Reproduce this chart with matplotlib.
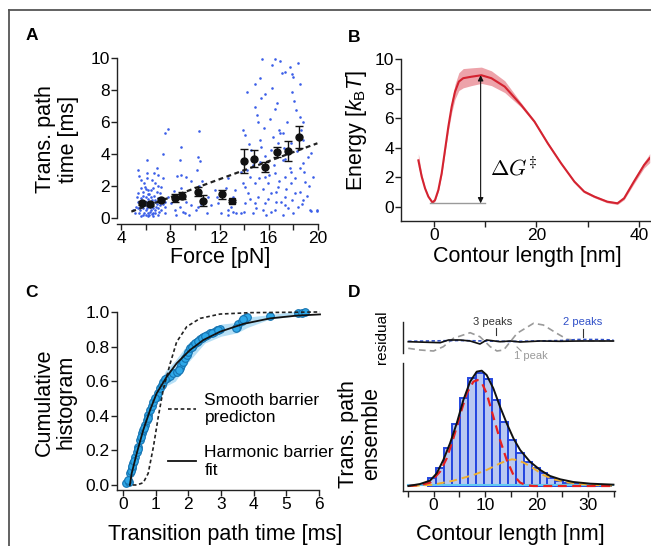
import numpy as np
import matplotlib
matplotlib.use('Agg')
import matplotlib.pyplot as plt
from matplotlib.lines import Line2D
from matplotlib.ticker import MultipleLocator, NullLocator, FormatStrFormatter

plt.rcParams['font.family'] = ['Liberation Sans', 'DejaVu Sans']
plt.rcParams['mathtext.fontset'] = 'custom'
plt.rcParams['mathtext.rm'] = 'Liberation Sans'
plt.rcParams['mathtext.it'] = 'Liberation Sans:italic'

# ---------------- panel A: transition path time vs force ----------------
scatter_force = [
    15.45, 16.54, 16.94, 16.27, 17.70, 18.38, 17.08, 17.92, 17.30, 15.26, 18.57, 16.27, 14.26, 15.67,
    17.92, 15.40, 18.03, 14.86, 16.48, 15.07, 18.24, 18.51, 18.78, 15.13, 13.91, 7.82, 10.34, 7.60,
    16.83, 17.16, 16.35, 18.78, 8.90, 7.41, 6.11, 10.25, 8.79, 10.39, 6.95, 13.83, 14.59, 16.75,
    17.84, 15.40, 19.19, 16.21, 17.16, 15.26, 18.78, 6.14, 5.38, 7.00, 7.41, 8.58, 9.31, 12.69,
    13.77, 14.45, 15.67, 16.48, 17.84, 18.51, 19.41, 17.30, 14.05, 14.86, 15.94, 16.75, 17.84, 18.92,
    19.60, 13.23, 11.61, 11.07, 13.10, 14.32, 15.13, 16.21, 17.30, 18.11, 18.78, 14.05, 14.86, 15.67,
    16.62, 17.30, 18.38, 19.33, 19.95, 12.69, 11.88, 10.25, 9.71, 9.17, 8.77, 8.36, 8.09, 7.82,
    7.55, 6.46, 5.92, 5.65, 5.38, 6.73, 5.25, 4.97, 5.11, 5.79, 6.19, 6.60, 7.00, 7.28,
    7.55, 6.87, 6.06, 5.52, 6.33, 6.73, 7.14, 6.06, 5.65, 6.46, 5.38, 6.60, 6.33, 5.92,
    7.00, 7.55, 6.19, 5.79, 7.28, 6.73, 6.46, 5.52, 12.69, 13.10, 13.77, 14.72, 15.53, 16.48,
    17.16, 17.97, 15.81, 19.40, 19.90,
    5.5, 5.7, 5.9, 6.0, 6.1, 6.2, 6.3, 6.4, 6.5, 6.6, 6.7, 6.8, 6.9, 7.1, 7.2, 5.8, 6.0, 6.3, 6.6,
    6.9, 5.6, 5.4, 5.9, 6.5, 7.0, 6.2, 6.4, 6.8, 5.3, 7.3, 5.6, 6.0, 6.5, 7.0, 5.8, 6.1, 6.7, 5.5,
    7.4, 6.2,
    8.3, 8.5, 8.9, 9.0, 9.3, 9.5, 10.1, 10.3, 10.5, 10.6, 11.0, 11.3, 11.8, 12.1, 12.5, 12.9, 13.3,
    10.2, 9.7, 8.9,
    14.2, 14.5, 14.7, 15.0, 15.2, 15.5, 15.7, 15.9, 16.0, 16.2, 16.4, 16.6, 16.8, 17.0, 17.2, 17.4,
    17.6, 17.7, 17.9, 18.1, 18.3, 18.5, 18.7, 18.9, 19.1, 19.3, 14.0, 14.4, 15.6, 16.1, 16.7, 17.5,
    18.0, 14.9, 16.9, 15.3, 17.3, 18.6, 14.1, 13.9,
]
scatter_time = [
    9.95, 9.95, 9.83, 9.56, 9.46, 9.71, 9.04, 9.00, 9.15, 8.73, 8.35, 8.10, 7.90, 7.75,
    7.90, 7.48, 7.33, 6.92, 6.79, 6.44, 6.75, 6.33, 6.02, 6.02, 5.50, 5.54, 5.44, 5.33,
    5.50, 5.29, 5.08, 4.88, 4.46, 4.00, 3.63, 3.79, 3.63, 3.56, 3.10, 3.42, 4.25, 4.67,
    4.67, 4.46, 3.83, 4.25, 3.63, 3.52, 3.42, 2.79, 3.00, 2.69, 2.48, 2.63, 2.58, 2.48,
    2.90, 2.58, 2.58, 2.79, 2.90, 3.10, 4.04, 2.58, 1.96, 2.17, 2.17, 1.96, 2.17, 2.27,
    2.58, 1.75, 1.75, 1.33, 1.33, 1.54, 1.33, 1.54, 1.33, 1.54, 1.13, 0.92, 0.92, 0.92,
    1.02, 0.81, 0.71, 0.50, 0.50, 0.50, 0.92, 0.71, 0.81, 0.29, 0.71, 0.50, 0.92, 1.33,
    0.71, 1.75, 1.96, 2.38, 1.54, 2.17, 0.71, 0.50, 0.29, 0.19, 0.15, 0.29, 0.19, 0.50,
    0.29, 0.71, 0.50, 0.50, 0.71, 1.02, 1.54, 1.33, 1.23, 1.33, 1.02, 0.15, 0.40, 0.81,
    1.23, 1.02, 1.75, 1.65, 1.96, 0.50, 0.81, 0.71, 0.19, 0.40, 0.29, 0.29, 0.50, 0.50,
    0.19, 0.29, 0.19, 0.45, 0.45,
    0.3, 0.9, 0.3, 1.0, 0.6, 1.2, 0.2, 0.5, 1.1, 0.6, 1.4, 0.3, 0.9, 0.4, 0.8, 1.4, 1.8, 1.5, 1.9,
    1.6, 1.9, 0.6, 2.2, 2.4, 2.0, 0.3, 0.9, 1.1, 1.3, 1.2, 0.15, 0.2, 0.25, 0.6, 0.6, 2.5, 2.8, 2.6,
    0.9, 1.5,
    1.7, 0.2, 1.9, 0.4, 1.0, 0.2, 0.5, 2.0, 0.9, 2.3, 0.3, 0.8, 1.3, 0.3, 1.9, 0.7, 0.3,
    3.0, 2.3, 2.7,
    3.0, 1.2, 3.3, 0.6, 2.5, 1.8, 3.9, 1.2, 2.7, 0.4, 3.3, 1.6, 2.3, 1.0, 4.4, 1.8,
    0.6, 3.1, 1.1, 2.5, 4.2, 1.6, 0.9, 2.9, 1.4, 2.0, 0.4, 4.6, 5.6, 6.2, 7.2, 6.0,
    8.8, 8.4, 5.3, 4.9, 3.7, 5.5, 5.2, 2.2,
]
mean_force = [5.71, 6.38, 7.22, 8.41, 8.98, 10.26, 10.63, 12.23, 13.02, 13.99, 14.83, 15.73, 16.65, 17.57, 18.49]
mean_time = [0.96, 0.90, 1.13, 1.25, 1.40, 1.65, 1.08, 1.48, 1.06, 3.58, 3.71, 3.21, 4.10, 4.19, 5.04]
mean_err = [0.12, 0.12, 0.10, 0.27, 0.22, 0.28, 0.34, 0.30, 0.08, 0.76, 0.52, 0.32, 0.31, 0.60, 0.68]
fit_force = [4.84, 19.95]
fit_time = [0.40, 4.67]

# ---------------- panel B: energy landscape ----------------
landscape_x = [-3.05, -2.4, -1.75, -1.1, -0.3, 0.2, 0.85, 1.5, 2.15, 2.8, 3.45, 4.1, 4.85, 5.7, 7.3,
               9.25, 11.2, 13.8, 17.0, 19.6, 22.2, 24.8, 27.4, 29.3, 31.3, 33.8, 35.8, 37.1, 39.0, 41.0, 42.1]
landscape_e = [3.15, 2.05, 1.26, 0.70, 0.30, 0.47, 1.15, 2.28, 3.85, 5.43, 6.78, 7.79, 8.47, 8.70, 8.80,
               8.90, 8.70, 8.13, 6.89, 5.77, 4.30, 2.95, 1.71, 1.04, 0.70, 0.36, 0.25, 0.59, 1.71, 2.84, 3.30]
landscape_err = [0.45, 0.2, 0.1, 0.08, 0.08, 0.08, 0.1, 0.15, 0.2, 0.3, 0.4, 0.5, 0.6, 0.65, 0.6,
                 0.55, 0.5, 0.4, 0.15, 0.1, 0.1, 0.08, 0.08, 0.08, 0.08, 0.08, 0.08, 0.1, 0.15, 0.2, 0.3]
barrier_x = 9.1
barrier_min = 0.25
barrier_max = 8.9
baseline_x = [-0.7, 10.0]

# ---------------- panel C: cumulative histogram ----------------
cdf_t = [0.09, 0.19, 0.21, 0.265, 0.32, 0.37, 0.42, 0.47, 0.52, 0.57, 0.62, 0.67, 0.72, 0.775, 0.83,
         0.88, 0.93, 1.03, 1.08, 1.13, 1.18, 1.23, 1.34, 1.44, 1.54, 1.64, 1.74, 1.79, 1.85, 1.90,
         1.95, 2.0, 2.05, 2.15, 2.26, 2.36, 2.46, 2.56, 2.66, 2.77, 2.87, 2.97, 3.48, 3.53, 3.63,
         3.73, 3.78, 4.5, 5.37, 5.47, 5.57, 0.15, 0.24, 0.29, 0.35, 0.45, 0.55, 0.65, 0.75, 0.98,
         1.28, 1.70, 2.10, 2.20, 2.31, 2.41, 2.52, 2.72, 2.92, 3.45, 3.68]
cdf_c = [0.013, 0.019, 0.067, 0.096, 0.125, 0.164, 0.193, 0.222, 0.26, 0.299, 0.318, 0.347, 0.376, 0.405,
         0.434, 0.457, 0.482, 0.51, 0.53, 0.558, 0.578, 0.597, 0.616, 0.63, 0.645, 0.655, 0.674, 0.694,
         0.713, 0.732, 0.751, 0.771, 0.79, 0.809, 0.828, 0.842, 0.853, 0.867, 0.876, 0.886, 0.896, 0.90,
         0.915, 0.931, 0.95, 0.963, 0.969, 0.977, 0.992, 0.996, 1.0, 0.03, 0.08, 0.11, 0.14, 0.21,
         0.28, 0.33, 0.39, 0.5, 0.61, 0.665, 0.80, 0.82, 0.835, 0.848, 0.86, 0.88, 0.898, 0.905, 0.957]
band_t = [0.1, 0.5, 1.0, 1.3, 1.6, 2.0, 2.5, 3.0, 3.5, 3.8, 4.5, 5.5, 5.6]
band_lo = [0.0, 0.2, 0.47, 0.57, 0.60, 0.71, 0.82, 0.86, 0.88, 0.91, 0.96, 0.98, 0.98]
band_hi = [0.03, 0.3, 0.54, 0.66, 0.72, 0.82, 0.88, 0.93, 0.94, 0.97, 0.985, 1.01, 1.01]
harmonic_t = [0.21, 0.265, 0.42, 0.62, 0.83, 1.03, 1.34, 1.64, 2.05, 2.46, 2.97, 3.68, 4.5, 5.32, 6.03]
harmonic_c = [0.0, 0.067, 0.183, 0.318, 0.434, 0.53, 0.626, 0.703, 0.78, 0.838, 0.886, 0.931, 0.963, 0.979, 0.986]
smooth_t = [0.3, 0.42, 0.62, 0.77, 0.93, 1.08, 1.23, 1.44, 1.64, 1.95, 2.36, 2.97, 3.89, 6.03]
smooth_c = [0.0, 0.0, 0.013, 0.067, 0.22, 0.395, 0.55, 0.70, 0.826, 0.915, 0.963, 0.988, 0.996, 1.0]

# ---------------- panel D: transition path ensemble ----------------
hist_edges = [-1.0, 0.54, 2.08, 3.62, 5.16, 6.7, 8.24, 9.78, 11.32, 12.86, 14.4, 15.94, 17.48, 19.02,
              20.56, 22.1, 23.64, 25.18, 26.72, 28.26, 29.8, 31.34, 32.88, 34.42]
hist_counts = [23, 55, 115, 185, 263, 323, 340, 320, 258, 191, 138, 98, 73, 55, 38, 23, 15, 10, 6, 4, 3, 2, 2]
total_x = [-4.89, -2.62, -0.68, 0.62, 1.9, 3.2, 4.5, 5.79, 7.09, 8.38, 9.35, 10.3, 11.6, 12.9, 14.2,
           15.5, 16.8, 18.7, 20.7, 22.6, 24.6, 27.1, 30.4, 34.9]
total_y = [0, 6, 16, 38, 78, 128, 188, 258, 313, 343, 346, 333, 293, 238, 188, 143, 108, 73, 48, 30, 20,
           12, 7, 4]
peak1_x = [-4.89, -2.62, -0.68, 1.26, 2.56, 3.85, 5.15, 6.44, 7.74, 8.51, 9.35, 10.3, 11.6, 12.9, 14.2,
           15.5, 16.8, 18.1, 19.4, 34.9]
peak1_y = [0, 3, 10, 43, 83, 143, 213, 278, 313, 318, 310, 278, 208, 138, 78, 33, 10, 2, 0, 0]
peak2_x = [-4.2, -0.03, 3.85, 7.74, 10.3, 12.9, 14.2, 15.2, 16.2, 17.5, 19.4, 21.3, 23.3, 25.9, 29.1,
           32.3, 34.9]
peak2_y = [0, 4, 16, 33, 48, 68, 76, 80, 78, 70, 53, 33, 20, 11, 5, 2, 1]
peak3_x = [-4.9, 34.9]
peak3_y = [2, 2]
resid3_x = [-4.9, 1.3, 2.9, 5.2, 7.1, 9.0, 10.3, 12.9, 14.9, 16.8, 20.7, 24.6, 28.5, 34.9]
resid3_y = [-0.7, -1.7, 1.0, 1.0, 0.0, -3.0, 1.0, -0.7, 0.0, -1.0, 0.0, -0.3, 0.0, 0.0]
resid2_x = [-4.9, 5.0, 10.0, 15.0, 20.0, 25.0, 28.0, 32.0, 34.9]
resid2_y = [-0.3, 0.5, 0.0, -0.5, 0.0, 0.5, 1.5, 1.5, 1.0]
resid1_x = [-4.9, -2.6, 0.0, 1.9, 3.85, 7.1, 9.0, 11.0, 12.3, 13.6, 14.9, 16.2, 19.4, 21.3, 23.9, 25.9,
            28.5, 34.9]
resid1_y = [-7.3, -9.0, -10.0, -5.7, 2.7, 8.3, 4.3, -5.7, -10.0, -9.0, -0.7, 7.7, 17.7, 16.0, 7.7, 1.7,
            0.3, 0.0]

W, H = 651, 546
fig = plt.figure(figsize=(W / 100, H / 100), dpi=100)
PX = fig.transFigure


def box(l, t, r, b):
    return fig.add_axes([l / W, 1 - b / H, (r - l) / W, (b - t) / H])


def fp(x, y):
    return x / W, 1 - y / H


def style(ax):
    for s in ('top', 'right'):
        ax.spines[s].set_visible(False)
    for s in ('left', 'bottom'):
        ax.spines[s].set_linewidth(1.0)
        ax.spines[s].set_color('#222222')
    ax.tick_params(which='both', direction='out', length=4.2, width=1.0, color='#222222',
                   labelsize=12.5, pad=1)


LAB = 15.5

# ---- A ----
axA = box(117, 56, 320, 224)
style(axA)
axA.scatter(scatter_force, scatter_time, s=3.5, color='#3b5ee8', linewidths=0, zorder=1)
axA.plot(fit_force, fit_time, color='#222222', ls=(0, (2.2, 1.6)), lw=1.6, zorder=2)
axA.errorbar(mean_force, mean_time, yerr=mean_err, fmt='none', ecolor='#111111',
             elinewidth=1.0, capsize=3, capthick=1.0, zorder=3)
sq = 8
circ = [i for i in range(len(mean_force)) if i != sq]
axA.plot([mean_force[i] for i in circ], [mean_time[i] for i in circ], 'o', color='#111111', ms=5, zorder=4)
axA.plot([mean_force[sq]], [mean_time[sq]], 's', color='#111111', ms=4.5, zorder=4)
axA.set_xlim(3.675, 20.16)
axA.set_ylim(-0.375, 10.125)
axA.spines['bottom'].set_bounds(3.7, 20)
axA.spines['left'].set_bounds(0, 10)
axA.xaxis.set_major_locator(MultipleLocator(4))
axA.xaxis.set_minor_locator(MultipleLocator(2))
axA.yaxis.set_major_locator(MultipleLocator(2))
axA.set_xlabel('Force [pN]', fontsize=LAB)
axA.xaxis.set_label_coords(*fp(220, 247), transform=PX)
axA.set_ylabel('Trans. path\ntime [ms]', fontsize=LAB, linespacing=1.1)
axA.yaxis.set_label_coords(*fp(79, 139), transform=PX)

# ---- B ----
axB = box(401, 56, 650, 221)
style(axB)
lo = [e - d for e, d in zip(landscape_e, landscape_err)]
hi = [e + d for e, d in zip(landscape_e, landscape_err)]
axB.fill_between(landscape_x, lo, hi, color='#eda3aa', lw=0, zorder=1)
axB.plot(landscape_x, landscape_e, color='#d42330', lw=1.5, zorder=2)
axB.plot(baseline_x, [barrier_min, barrier_min], color='#9a9a9a', lw=1.0, zorder=2)
axB.annotate('', xy=(barrier_x, barrier_max), xytext=(barrier_x, barrier_min),
             arrowprops=dict(arrowstyle='<|-|>', color='#111111', lw=0.8,
                             mutation_scale=8, shrinkA=0, shrinkB=0), zorder=3)
axB.text(11.0, 2.55, r'$\Delta G^{\ddagger}$', fontsize=16, math_fontfamily='cm',
         ha='left', va='center')
axB.set_xlim(-6.44, 42.15)
axB.set_ylim(-0.946, 10.2)
axB.spines['left'].set_bounds(-0.946, 10)
axB.xaxis.set_major_locator(MultipleLocator(20))
axB.xaxis.set_minor_locator(MultipleLocator(10))
axB.yaxis.set_major_locator(MultipleLocator(2))
axB.set_xlabel('Contour length [nm]', fontsize=LAB)
axB.xaxis.set_label_coords(*fp(527, 246), transform=PX)
axB.set_ylabel(r'Energy [$k_{\mathrm{B}}T$]', fontsize=LAB)
axB.yaxis.set_label_coords(*fp(369, 130), transform=PX)

# ---- C ----
axC = box(117, 308, 321, 490)
style(axC)
axC.fill_between(band_t, band_lo, band_hi, color='#b7e0f6', lw=0, zorder=1)
axC.plot(cdf_t, cdf_c, 'o', ms=5.5, mfc='#2ea8e8', mec='#1673b0', mew=0.8, zorder=2)
axC.plot(smooth_t, smooth_c, color='#222222', ls=(0, (2.2, 1.6)), lw=1.2, zorder=3,
         label='Smooth barrier\npredicton')
axC.plot(harmonic_t, harmonic_c, color='#111111', lw=1.3, zorder=4, label='Harmonic barrier\nfit')
axC.set_xlim(-0.184, 6.06)
axC.set_ylim(-0.029, 1.023)
axC.spines['left'].set_bounds(-0.029, 1.0)
axC.spines['bottom'].set_bounds(-0.184, 6)
axC.xaxis.set_major_locator(MultipleLocator(1))
axC.yaxis.set_major_locator(MultipleLocator(0.2))
axC.yaxis.set_major_formatter(FormatStrFormatter('%.1f'))
axC.legend(loc='upper left', bbox_to_anchor=fp(168, 393), bbox_transform=PX, frameon=False,
           fontsize=12.5, handlelength=1.6, handletextpad=0.5, labelspacing=1.15,
           borderaxespad=0, borderpad=0)
axC.set_xlabel('Transition path time [ms]', fontsize=LAB)
axC.xaxis.set_label_coords(*fp(225, 524), transform=PX)
axC.set_ylabel('Cumulative\nhistogram', fontsize=LAB, linespacing=1.1)
axC.yaxis.set_label_coords(*fp(77, 402), transform=PX)

# ---- D residual ----
axR = box(403, 318, 615, 356)
for s in ('top', 'right', 'bottom'):
    axR.spines[s].set_visible(False)
axR.spines['left'].set_linewidth(1.0)
axR.spines['left'].set_color('#222222')
axR.spines['left'].set_bounds(-12, 19)
axR.xaxis.set_major_locator(NullLocator())
axR.yaxis.set_major_locator(NullLocator())
axR.set_xlim(-5.92, 35.2)
axR.set_ylim(-15, 23)
axR.plot(resid1_x, resid1_y, color='#9a9a9a', ls=(0, (4, 2.5)), lw=1.2)
axR.plot(resid2_x, resid2_y, color='#3050c8', ls=(0, (2, 1.5)), lw=1.2)
axR.plot(resid3_x, resid3_y, color='#111111', lw=1.2)
axR.text(11.4, 19, '3 peaks', fontsize=8, color='#333333', ha='center', va='center')
axR.plot([12.1, 12.1], [13, 6], color='#333333', lw=0.8)
axR.text(29.0, 19, '2 peaks', fontsize=8, color='#3050c8', ha='center', va='center')
axR.plot([28.9, 28.9], [12, 4], color='#333333', lw=0.8)
axR.text(18.8, -15, '1 peak', fontsize=8, color='#9a9a9a', ha='center', va='center', clip_on=False)
axR.plot([16.2, 17.0], [-6, -10], color='#9a9a9a', lw=0.8, clip_on=False)
axR.set_ylabel('residual', fontsize=11)
axR.yaxis.set_label_coords(*fp(389, 337), transform=PX)

# ---- D main ----
axD = box(403, 363, 615, 491)
style(axD)
axD.bar(hist_edges[:-1], hist_counts, width=np.diff(hist_edges), align='edge',
        color='#b9c8f1', edgecolor='#2446e0', lw=1.4, zorder=1)
axD.plot(peak3_x, peak3_y, color='#63c9f2', lw=1.5, zorder=2)
axD.plot(peak2_x, peak2_y, color='#f0b030', ls=(0, (4, 2.5)), lw=1.4, zorder=3)
axD.plot(peak1_x, peak1_y, color='#e82020', ls=(0, (4, 2.5)), lw=1.6, zorder=4)
axD.plot(total_x, total_y, color='#111111', lw=1.4, zorder=5)
axD.set_xlim(-5.92, 35.2)
axD.set_ylim(-15, 369)
axD.yaxis.set_major_locator(NullLocator())
axD.xaxis.set_major_locator(MultipleLocator(10))
axD.xaxis.set_minor_locator(MultipleLocator(5))
axD.set_xlabel('Contour length [nm]', fontsize=LAB)
axD.xaxis.set_label_coords(*fp(510, 524), transform=PX)
axD.set_ylabel('Trans. path\nensemble', fontsize=LAB, linespacing=1.1)
axD.yaxis.set_label_coords(*fp(382, 434), transform=PX)

# panel letters
for letter, (x, y) in zip('ABCD', [(26, 40), (348, 42), (25, 297), (348, 297)]):
    fig.text(*fp(x, y), letter, fontsize=12.5, fontweight='bold', ha='left', va='baseline')

# outer frame (left and top edges)
fig.add_artist(Line2D([9 / W, 9 / W], [0, 1 - 10 / H], transform=PX, color='#555555', lw=1.3))
fig.add_artist(Line2D([9 / W, 1], [1 - 10 / H, 1 - 10 / H], transform=PX, color='#555555', lw=1.3))

fig.savefig('out.png', dpi=100)
